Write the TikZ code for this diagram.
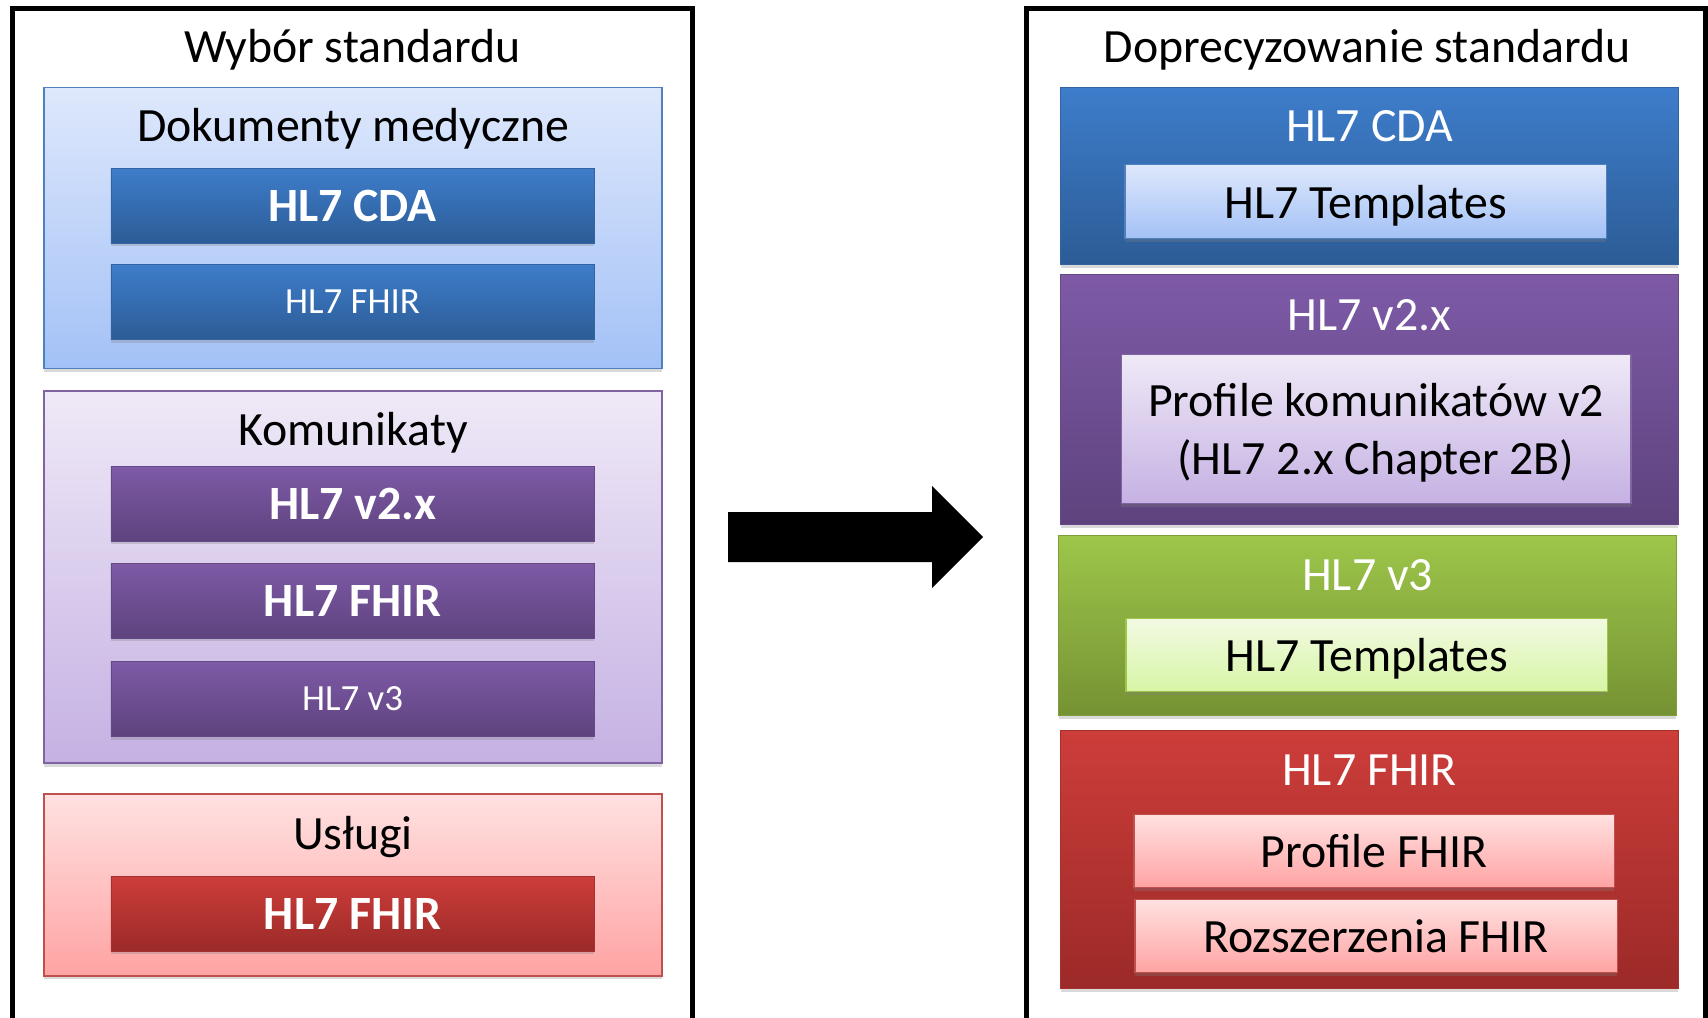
\documentclass[tikz,border=0pt]{standalone}
\usepackage{fontspec}
\setmainfont{Carlito}
\usetikzlibrary{positioning,shadows}
\definecolor{lbtop}{HTML}{DEE8FC}
\definecolor{lbbot}{HTML}{A3C1F6}
\definecolor{lbline}{HTML}{4F81BD}
\definecolor{dbtop}{HTML}{3E7DCB}
\definecolor{dbbot}{HTML}{2C5C96}
\definecolor{lptop}{HTML}{EFE9F7}
\definecolor{lpbot}{HTML}{C5B1E3}
\definecolor{lpline}{HTML}{8064A2}
\definecolor{dptop}{HTML}{7E5AA7}
\definecolor{dpbot}{HTML}{5E437E}
\definecolor{lrtop}{HTML}{FFE1E1}
\definecolor{lrbot}{HTML}{FFA3A3}
\definecolor{lrline}{HTML}{C0504D}
\definecolor{drtop}{HTML}{CD3D3A}
\definecolor{drbot}{HTML}{9B2A28}
\definecolor{lgtop}{HTML}{F2FAE3}
\definecolor{lgbot}{HTML}{D7F5A5}
\definecolor{dgtop}{HTML}{9DC64A}
\definecolor{dgbot}{HTML}{759233}
\newcommand{\px}{0.5669pt}
\newcommand{\bigtxt}{\fontsize{27.2pt}{32.7pt}\selectfont}
\newcommand{\smalltxt}{\fontsize{21pt}{26pt}\selectfont}

\begin{document}
\begin{tikzpicture}[x=0.02cm,y=-0.02cm,
  box/.style={rectangle,inner sep=0pt,align=center,font=\bigtxt,text depth=0pt,
    drop shadow={shadow xshift=0pt,shadow yshift=-2pt,opacity=0.3}},
  wide/.style={minimum width=620*\px},
  inner/.style={minimum width=485*\px,minimum height=75*\px},
  lblue/.style={box,top color=lbtop,bottom color=lbbot,draw=lbline,line width=1pt},
  dblue/.style={box,top color=dbtop,bottom color=dbbot,draw=dbtop!80!black,line width=0.4pt,text=white},
  lpurple/.style={box,top color=lptop,bottom color=lpbot,draw=lpline,line width=1pt},
  dpurple/.style={box,top color=dptop,bottom color=dpbot,draw=dptop!80!black,line width=0.4pt,text=white},
  lred/.style={box,top color=lrtop,bottom color=lrbot,draw=lrline,line width=1pt},
  dred/.style={box,top color=drtop,bottom color=drbot,draw=drtop!80!black,line width=0.4pt,text=white},
  lgreen/.style={box,top color=lgtop,bottom color=lgbot,draw=dgtop,line width=1pt},
  dgreen/.style={box,top color=dgtop,bottom color=dgbot,draw=dgtop!80!black,line width=0.4pt,text=white},
  title/.style={font=\bigtxt,inner sep=0pt,text depth=0pt},
  frame/.style={draw=black,line width=5*\px}]
  \useasboundingbox (0,0) rectangle (1708,1018);

  % left part
  \draw[frame] (12.5,1018) -- (12.5,8.5) -- (692.5,8.5) -- (692.5,1018);
  \node[title] (wybor) at (352.5,46) {Wybór standardu};

  \node[lblue,wide,minimum height=282*\px] (dok) at (353,228) {};
  \node[title] (dokt) at (353,125) {Dokumenty medyczne};
  \node[dblue,inner] (cda) at (352.5,205.5) {\bfseries HL7 CDA};
  \node[dblue,inner,font=\smalltxt] (fhira) at (352.5,302) {HL7 FHIR};

  \node[lpurple,wide,minimum height=374*\px] (kom) at (353,577) {};
  \node[title] (komt) at (353,429) {Komunikaty};
  \node[dpurple,inner] (vdwa) at (352.5,503.5) {\bfseries HL7 v2.x};
  \node[dpurple,inner] (fhirb) at (352.5,600.5) {\bfseries HL7 FHIR};
  \node[dpurple,inner,font=\smalltxt] (vtrzy) at (352.5,699) {HL7 v3};

  \node[lred,wide,minimum height=182*\px] (usl) at (353,885) {};
  \node[title] (uslt) at (353,833) {Usługi};
  \node[dred,inner] (fhirc) at (352.5,913.5) {\bfseries HL7 FHIR};

  % arrow
  \fill (728,512) -- (932,512) -- (932,486) -- (983,537) -- (932,588)
    -- (932,562) -- (728,562) -- cycle;

  % right part
  \draw[frame] (1026.5,1018) -- (1026.5,8.5) -- (1705,8.5) -- (1705,1018);
  \node[title] (dopr) at (1367,46) {Doprecyzowanie standardu};

  \node[dblue,wide,minimum height=178*\px] (cdar) at (1369.5,176) {};
  \node[title,text=white] (cdart) at (1369.5,126) {HL7 CDA};
  \node[lblue,minimum width=483*\px,minimum height=75*\px,line width=0.6pt] (tpla) at (1365.5,201.5) {HL7 Templates};

  \node[dpurple,wide,minimum height=251*\px] (vdwar) at (1369.5,399.5) {};
  \node[title,text=white] (vdwart) at (1369.5,315) {HL7 v2.x};
  \node[lpurple,minimum width=512*\px,minimum height=150*\px,line width=0.6pt] (prof) at (1376,429) {Profile komunikatów v2\\(HL7 2.x Chapter 2B)};

  \node[dgreen,wide,minimum height=181*\px] (vtrzyr) at (1367.5,625.5) {};
  \node[title,text=white] (vtrzyrt) at (1367.5,575) {HL7 v3};
  \node[lgreen,minimum width=483*\px,minimum height=74*\px,line width=0.6pt] (tplb) at (1366.5,655) {HL7 Templates};

  \node[dred,wide,minimum height=259*\px] (fhirr) at (1369.5,859.5) {};
  \node[title,text=white] (fhirrt) at (1369.5,770) {HL7 FHIR};
  \node[lred,minimum width=482*\px,minimum height=74*\px,line width=0.6pt] (proff) at (1374,851) {Profile FHIR};
  \node[lred,minimum width=484*\px,minimum height=74*\px,line width=0.6pt] (rozsz) at (1376,936) {Rozszerzenia FHIR};
\end{tikzpicture}
\end{document}
